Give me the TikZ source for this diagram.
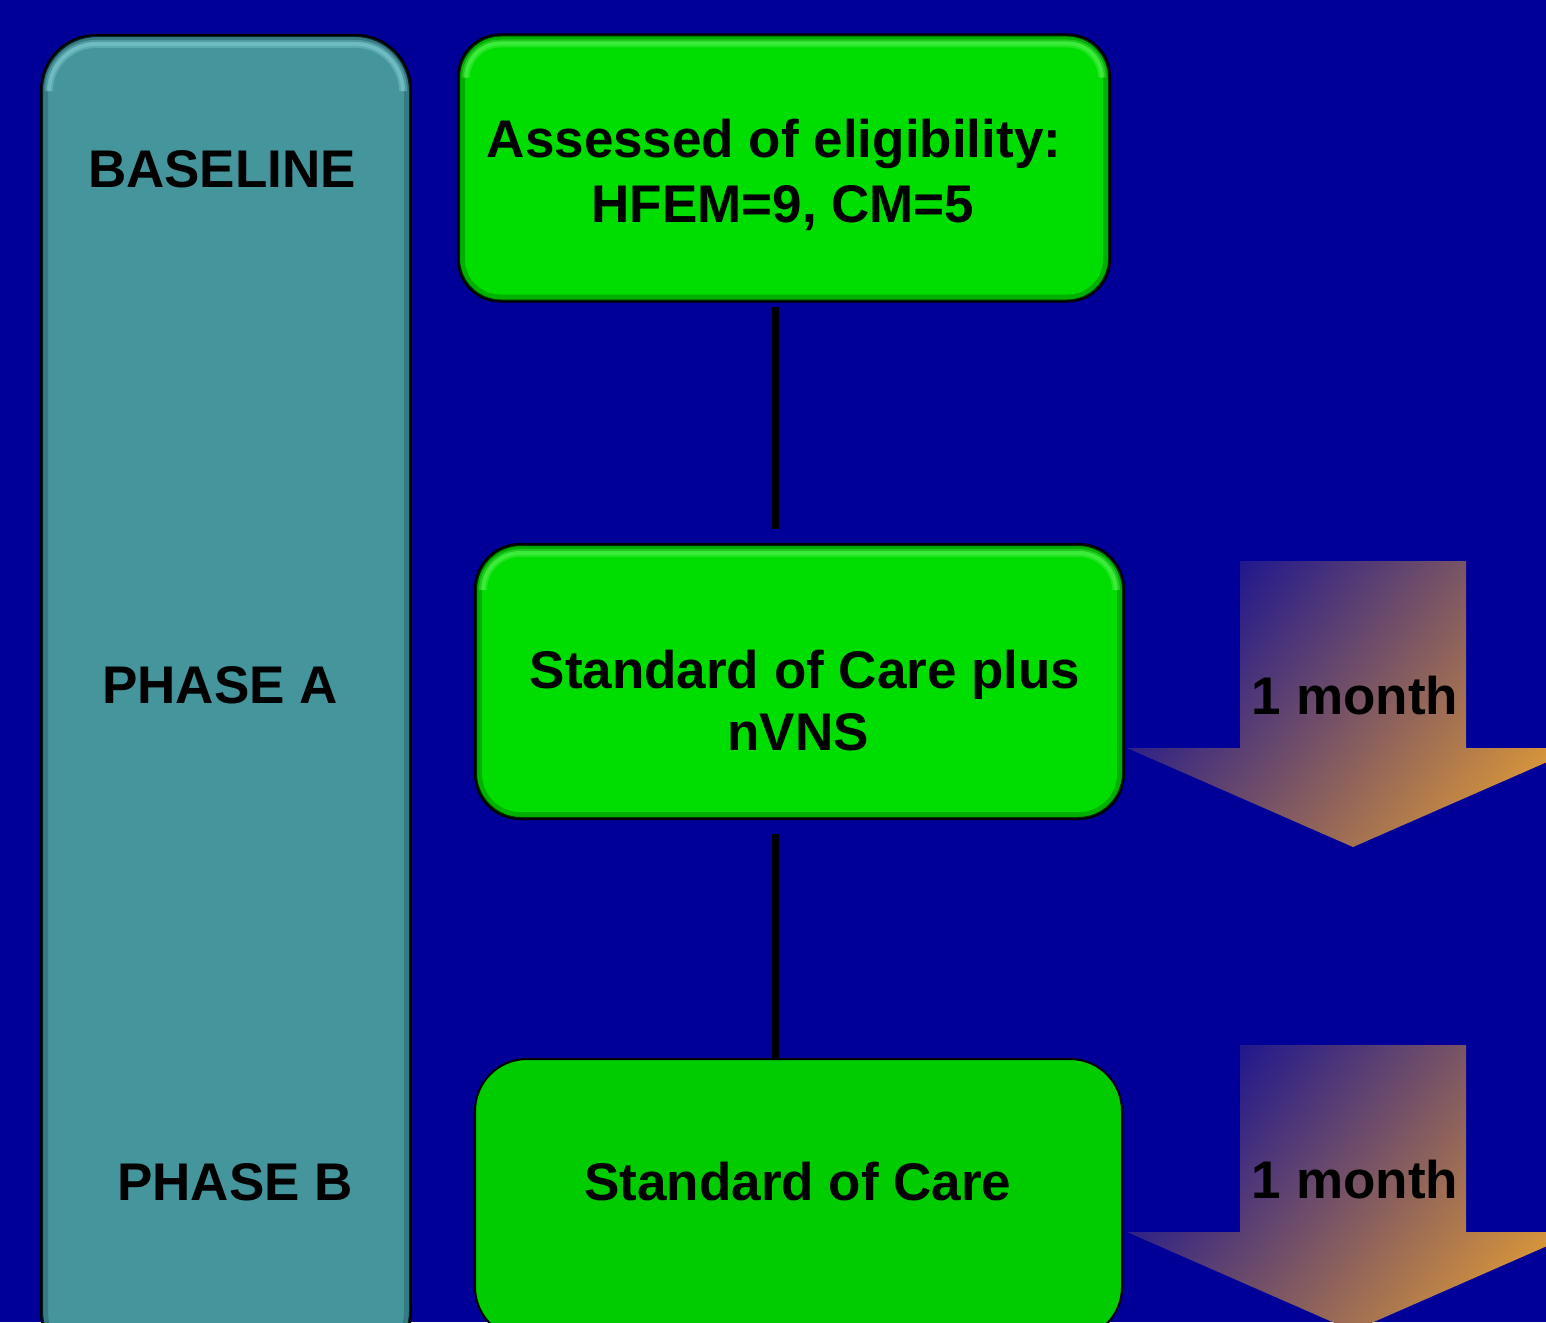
\documentclass[tikz,border=0pt]{standalone}
\usepackage{fontspec}
\setmainfont{Liberation Sans}
\usetikzlibrary{calc}

\definecolor{bgnavy}{HTML}{000099}
\definecolor{phaseteal}{HTML}{44959C}
\definecolor{tealdark}{HTML}{1C5560}
\definecolor{teallight}{HTML}{86D2D8}
\definecolor{boxgreen}{HTML}{00DD00}
\definecolor{greendark}{HTML}{006E00}
\definecolor{greenlight}{HTML}{5CF55C}
\definecolor{flatgreen}{HTML}{00CC00}
\definecolor{arrowblue}{HTML}{1A1390}
\definecolor{arroworange}{HTML}{D8953A}

\tikzset{
  caption/.style={font=\fontsize{53}{64}\selectfont\bfseries, text=black, inner sep=0pt, anchor=base},
  roundbox/.style={rectangle, inner sep=0pt, draw=black, line width=2pt},
  connector/.style={draw=black, line width=7pt},
  timearrow/.style={left color=arrowblue, right color=arroworange, shading angle=52},
}

% bevel: inner dark rim plus a soft light highlight along the top edge
\newcommand\bevelrim[5]{% node, radius, inner radius, dark, light
  \begin{scope}
    \clip[rounded corners=#2] (#1.north west) rectangle (#1.south east);
    \draw[#4, line width=14pt, opacity=0.4, rounded corners=#2]
      (#1.north west) rectangle (#1.south east);
    \draw[#5, line width=8pt, opacity=0.35, rounded corners=#3]
      ($(#1.north west)+(8pt,-#2)$) |- ($(#1.north)+(0pt,-9pt)$)
      -| ($(#1.north east)+(-8pt,-#2)$);
    \draw[#5, line width=4pt, opacity=0.45, rounded corners=#3]
      ($(#1.north west)+(8pt,-#2)$) |- ($(#1.north)+(0pt,-9pt)$)
      -| ($(#1.north east)+(-8pt,-#2)$);
  \end{scope}
  \draw[black, line width=2pt, rounded corners=#2] (#1.north west) rectangle (#1.south east);
}

\begin{document}
\begin{tikzpicture}[x=1pt, y=-1pt]
  \fill[bgnavy] (0,0) rectangle (1546,1322);
  \useasboundingbox (0,0) rectangle (1546,1322);
  \clip (0,0) rectangle (1546,1322);

  % phase column
  \node[roundbox, rounded corners=55pt, fill=phaseteal, minimum width=368pt, minimum height=1330pt]
    (phases) at (226,701) {};
  \bevelrim{phases}{55pt}{47pt}{tealdark}{teallight}
  \node[caption] (baseline) at (222,187) {BASELINE};
  \node[caption] (phaseA) at (220,703) {PHASE A};
  \node[caption] (phaseB) at (235,1200) {PHASE B};

  % flow boxes
  \node[roundbox, rounded corners=42pt, fill=boxgreen, minimum width=650pt, minimum height=265pt]
    (assess) at (784,168) {};
  \bevelrim{assess}{42pt}{34pt}{greendark}{greenlight}
  \node[caption] (assessA) at (774,157) {Assessed of eligibility:};
  \node[caption] (assessB) at (783,222) {HFEM=9, CM=5};

  \node[roundbox, rounded corners=45pt, fill=boxgreen, minimum width=647pt, minimum height=273pt]
    (nvns) at (799.5,681.5) {};
  \bevelrim{nvns}{45pt}{37pt}{greendark}{greenlight}
  \node[caption] (nvnsA) at (805,688) {Standard of Care plus};
  \node[caption] (nvnsB) at (798,750) {nVNS};

  \node[roundbox, rounded corners=52pt, fill=flatgreen, minimum width=647pt, minimum height=280pt]
    (soc) at (798.5,1199) {};
  \node[caption] (socT) at (798,1200) {Standard of Care};

  % connectors
  \coordinate (spine) at (775,0);
  \draw[connector, shorten <=5pt, shorten >=15pt] (assess.south -| spine) -- (nvns.north -| spine);
  \draw[connector, shorten <=15pt] (nvns.south -| spine) -- (soc.north -| spine);

  % duration arrows
  \shade[timearrow] (1240,561) -- (1466,561) -- (1466,748) -- (1579,748) -- (1353,847)
    -- (1127,748) -- (1240,748) -- cycle;
  \node[caption] (monthA) at (1355,714) {1 month};
  \shade[timearrow] (1240,1045) -- (1466,1045) -- (1466,1232) -- (1579,1232) -- (1353,1331)
    -- (1127,1232) -- (1240,1232) -- cycle;
  \node[caption] (monthB) at (1355,1198) {1 month};
\end{tikzpicture}
\end{document}
